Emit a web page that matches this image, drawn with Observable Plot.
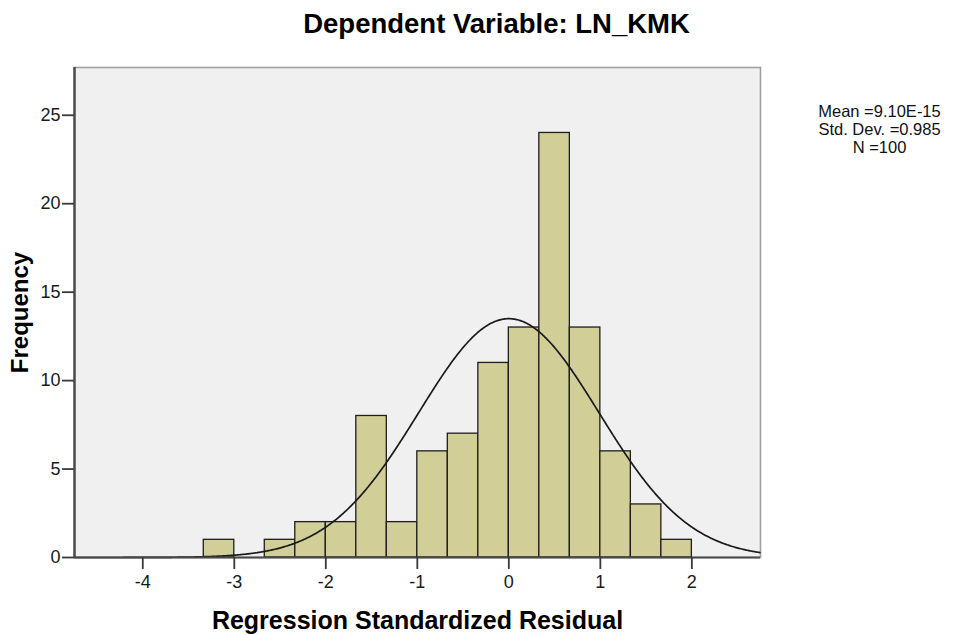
<!DOCTYPE html>
<html><head><meta charset="utf-8">
<script src="https://cdn.jsdelivr.net/npm/d3@7"></script>
<script src="https://cdn.jsdelivr.net/npm/@observablehq/plot@0.6"></script>
<style>body{margin:0;background:#fff} svg{display:block}</style>
</head><body><div id="chart"></div>
<script>
// Histogram bins (bin width 1/3)
const binStart = [-3.3333,-3,-2.6667,-2.3333,-2,-1.6667,-1.3333,-1,-0.6667,-0.3333,0,0.3333,0.6667,1,1.3333,1.6667];
const binEnd   = [-3,-2.6667,-2.3333,-2,-1.6667,-1.3333,-1,-0.6667,-0.3333,0,0.3333,0.6667,1,1.3333,1.6667,2];
const counts   = [1,0,1,2,2,8,2,6,7,11,13,24,13,6,3,1];

// Summary statistics shown in the legend
const statMean = 9.10e-15;
const statSd = 0.985;
const statN = 100;
const binWidth = 1/3;

const xTicks = [-4,-3,-2,-1,0,1,2];
const yTicks = [0,5,10,15,20,25];
const xDomain = [-4.746, 2.75];
const yDomain = [0, 27.7];
const legendLines = ["Mean =9.10E-15","Std. Dev. =0.985","N =100"];
const titleText = "Dependent Variable: LN_KMK";
const xLabel = "Regression Standardized Residual";
const yLabel = "Frequency";

const bins = binStart.map((s,i)=>({x1:s, x2:binEnd[i], count:counts[i]})).filter(d=>d.count>0);

// Fitted normal curve from the stated mean / sd / N, scaled to bin width
const curveX = d3.range(xDomain[0], xDomain[1]+0.0001, 0.01);
const curve = curveX.map(x=>({x, y: statN*binWidth*Math.exp(-((x-statMean)**2)/(2*statSd*statSd))/(statSd*Math.sqrt(2*Math.PI))}));

const font = "'Liberation Sans', Arial, sans-serif";
const fmt = d => String(d);

const plot = Plot.plot({
  width: 953, height: 635,
  marginLeft: 74, marginRight: 193, marginTop: 67, marginBottom: 78,
  style: {fontFamily: font, background: "#fff", color: "#000"},
  x: {domain: xDomain},
  y: {domain: yDomain},
  marks: [
    Plot.frame({fill: "#f0f0f0", stroke: "#a0a0a0", strokeWidth: 1.6}),
    Plot.rect(bins, {x1:"x1", x2:"x2", y1:0, y2:"count", fill:"#d2ce98", stroke:"#1e1e1e", strokeWidth:1.3}),
    Plot.line(curve, {x:"x", y:"y", stroke:"#1a1a1a", strokeWidth:1.7}),
    Plot.ruleX([xDomain[0]], {stroke:"#4a4a4a", strokeWidth:2.4}),
    Plot.ruleY([0], {stroke:"#4a4a4a", strokeWidth:2.2}),
    Plot.axisX({ticks: xTicks, tickFormat: fmt, tickSize: 12, tickPadding: 6, fontSize: 18, stroke: "#3a3a3a", strokeWidth: 1.8, fill: "#1a1a1a", label: null}),
    Plot.axisY({ticks: yTicks, tickFormat: fmt, tickSize: 12, tickPadding: 2, fontSize: 18, stroke: "#3a3a3a", strokeWidth: 1.8, fill: "#1a1a1a", label: null}),
    Plot.text([titleText], {frameAnchor: "top", dx: 79, dy: -43, lineAnchor: "middle", fontSize: 27.5, fontWeight: "bold", fill: "#000"}),
    Plot.text([xLabel], {frameAnchor: "bottom", dy: 71, fontSize: 25, fontWeight: "bold", fill: "#000"}),
    Plot.text([yLabel], {frameAnchor: "left", textAnchor: "middle", dx: -54, rotate: -90, fontSize: 24, fontWeight: "bold", fill: "#000"}),
    Plot.text([legendLines[0]], {frameAnchor: "top-right", dx: 119, dy: 38, fontSize: 16.5, textAnchor: "middle", fill: "#111"}),
    Plot.text([legendLines[1]], {frameAnchor: "top-right", dx: 119, dy: 56, fontSize: 16.5, textAnchor: "middle", fill: "#111"}),
    Plot.text([legendLines[2]], {frameAnchor: "top-right", dx: 119, dy: 74, fontSize: 16.5, textAnchor: "middle", fill: "#111"})
  ]
});
document.getElementById("chart").appendChild(plot);
</script>
</body></html>
